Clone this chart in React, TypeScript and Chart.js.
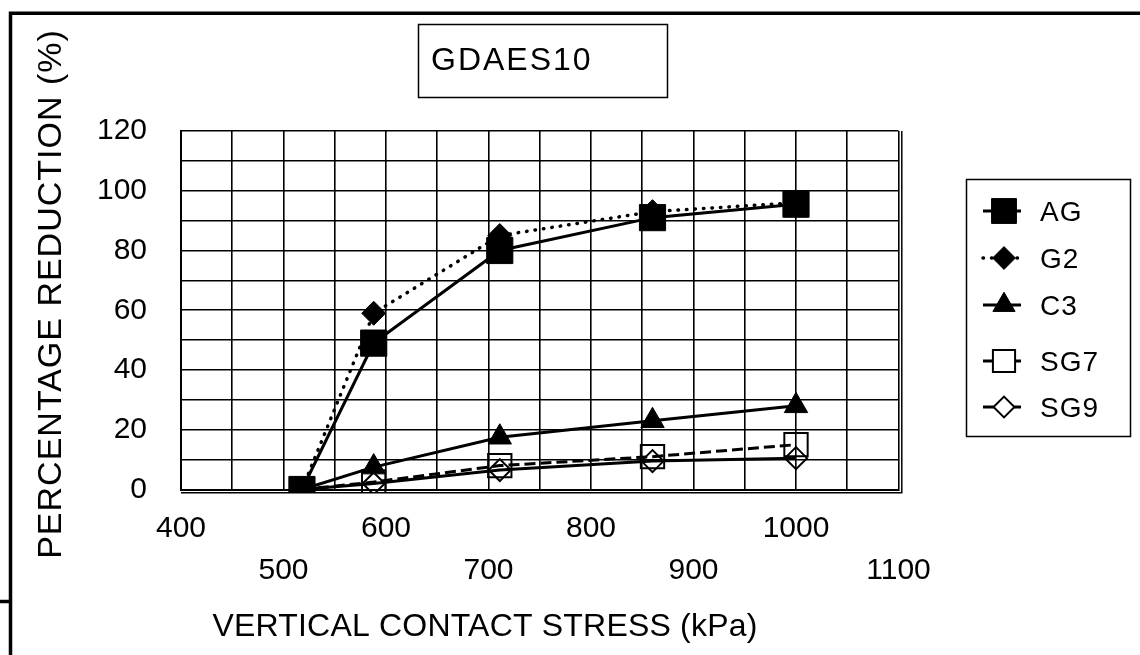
import React, { useEffect, useRef } from 'react';
import { Chart, registerables } from 'chart.js';

Chart.register(...registerables);

const FONT = '"Liberation Sans", Arial, Helvetica, sans-serif';

// ---- data ----
const stressKPa = [518, 588, 711, 860, 1000];
const agReduction = [0, 49, 80, 91, 95.5];
const g2Reduction = [0, 59, 85, 93, 96];
const c3Reduction = [0, 7.5, 17.5, 23, 28];
const sg7Reduction = [0, 2.5, 8, 11, 15];
const sg9Reduction = [0, 2, 6.5, 9.5, 10.5];
const seriesNames = ['AG', 'G2', 'C3', 'SG7', 'SG9'];
const xTickLabelsTop = ['400', '600', '800', '1000'];
const xTickLabelsBottom = ['500', '700', '900', '1100'];
const yTickLabels = ['0', '20', '40', '60', '80', '100', '120'];
const chartTitle = 'GDAES10';
const xAxisTitle = 'VERTICAL CONTACT STRESS (kPa)';
const yAxisTitle = 'PERCENTAGE REDUCTION (%)';

const toPoints = (ys: number[]) => stressKPa.map((x, i) => ({ x, y: ys[i] }));

function drawMarker(ctx: CanvasRenderingContext2D, style: string, x: number, y: number, r: number, filled: boolean, lw: number) {
  ctx.beginPath();
  if (style === 'rect') {
    const s = Math.SQRT1_2 * r;
    ctx.rect(x - s, y - s, 2 * s, 2 * s);
  } else if (style === 'rectRot') {
    ctx.moveTo(x - r, y);
    ctx.lineTo(x, y - r);
    ctx.lineTo(x + r, y);
    ctx.lineTo(x, y + r);
    ctx.closePath();
  } else if (style === 'triangle') {
    let rad = 0;
    ctx.moveTo(x + Math.sin(rad) * r, y - Math.cos(rad) * r);
    rad += (2 * Math.PI) / 3;
    ctx.lineTo(x + Math.sin(rad) * r, y - Math.cos(rad) * r);
    rad += (2 * Math.PI) / 3;
    ctx.lineTo(x + Math.sin(rad) * r, y - Math.cos(rad) * r);
    ctx.closePath();
  }
  ctx.fillStyle = filled ? '#000' : '#fff';
  ctx.fill();
  ctx.lineWidth = lw;
  ctx.strokeStyle = '#000';
  ctx.stroke();
}

const decorPlugin = {
  id: 'decor',
  afterDraw(chart: any) {
    const ctx: CanvasRenderingContext2D = chart.ctx;
    const a = chart.chartArea;
    ctx.save();
    ctx.strokeStyle = '#000';
    ctx.fillStyle = '#000';

    // outer (clipped) frame
    ctx.lineWidth = 3.5;
    ctx.beginPath();
    ctx.moveTo(10.5, 655);
    ctx.lineTo(10.5, 13.3);
    ctx.lineTo(1140, 13.3);
    ctx.stroke();
    ctx.beginPath();
    ctx.moveTo(0, 601.5);
    ctx.lineTo(10.5, 601.5);
    ctx.stroke();

    // double border at right / bottom of plot area
    ctx.lineWidth = 1.5;
    ctx.beginPath();
    ctx.moveTo(a.left, a.bottom + 3.3);
    ctx.lineTo(a.right + 3.3, a.bottom + 3.3);
    ctx.lineTo(a.right + 3.3, a.top);
    ctx.stroke();

    // title box
    ctx.lineWidth = 1.5;
    ctx.strokeRect(418.5, 24.5, 249, 73);
    ctx.font = `32px ${FONT}`;
    (ctx as any).letterSpacing = '2px';
    ctx.textAlign = 'left';
    ctx.textBaseline = 'alphabetic';
    ctx.fillText(chartTitle, 431, 58.3 + 0.358 * 32);

    // x axis title
    ctx.font = `32px ${FONT}`;
    (ctx as any).letterSpacing = '0.2px';
    ctx.textAlign = 'center';
    ctx.fillText(xAxisTitle, 485, 625 + 0.358 * 32);

    // y axis title
    ctx.save();
    ctx.translate(48.4 + 0.358 * 34, 294);
    ctx.rotate(-Math.PI / 2);
    ctx.font = `34px ${FONT}`;
    (ctx as any).letterSpacing = '1px';
    ctx.textAlign = 'center';
    ctx.textBaseline = 'alphabetic';
    ctx.fillText(yAxisTitle, 0, 0);
    ctx.restore();

    // legend
    ctx.lineWidth = 1.5;
    ctx.strokeRect(966.5, 179.5, 164, 257);
    const itemY = [211, 258, 305, 361, 407];
    chart.data.datasets.forEach((ds: any, i: number) => {
      const y = itemY[i];
      ctx.save();
      ctx.lineWidth = ds.borderWidth;
      ctx.lineCap = ds.borderCapStyle || 'butt';
      ctx.setLineDash(ds.borderDash || []);
      ctx.beginPath();
      ctx.moveTo(983, y);
      ctx.lineTo(1021, y);
      ctx.stroke();
      ctx.restore();
      const filled = ds.pointBackgroundColor === '#000';
      drawMarker(ctx, ds.pointStyle, 1004, y, ds.pointRadius * 0.95, filled, ds.pointBorderWidth);
      ctx.fillStyle = '#000';
      ctx.font = `28px ${FONT}`;
      (ctx as any).letterSpacing = '1px';
      ctx.textAlign = 'left';
      ctx.textBaseline = 'alphabetic';
      ctx.fillText(ds.label, 1040, y + 0.358 * 28);
    });
    ctx.restore();
  },
};

export default function App() {
  const canvasRef = useRef<HTMLCanvasElement | null>(null);

  useEffect(() => {
    if (!canvasRef.current) return;
    const tickFont = { family: FONT, size: 30, lineHeight: 1.4 };
    const chart = new Chart(canvasRef.current, {
      type: 'line',
      data: {
        datasets: [
          {
            label: seriesNames[0],
            data: toPoints(agReduction),
            borderColor: '#000',
            borderWidth: 3,
            pointStyle: 'rect',
            pointRadius: 18.5,
            pointBackgroundColor: '#000',
            pointBorderColor: '#000',
            pointBorderWidth: 1,
            clip: 3,
          },
          {
            label: seriesNames[1],
            data: toPoints(g2Reduction),
            borderColor: '#000',
            borderWidth: 3.5,
            borderDash: [0.5, 8],
            borderCapStyle: 'round',
            pointStyle: 'rectRot',
            pointRadius: 12,
            pointBackgroundColor: '#000',
            pointBorderColor: '#000',
            pointBorderWidth: 1,
            clip: 3,
          },
          {
            label: seriesNames[2],
            data: toPoints(c3Reduction),
            borderColor: '#000',
            borderWidth: 3,
            pointStyle: 'triangle',
            pointRadius: 13.5,
            pointBackgroundColor: '#000',
            pointBorderColor: '#000',
            pointBorderWidth: 1,
            clip: 3,
          },
          {
            label: seriesNames[3],
            data: toPoints(sg7Reduction),
            borderColor: '#000',
            borderWidth: 3,
            borderDash: [11, 5],
            pointStyle: 'rect',
            pointRadius: 16.5,
            pointBackgroundColor: 'rgba(0,0,0,0)',
            pointBorderColor: '#000',
            pointBorderWidth: 2,
            clip: 3,
          },
          {
            label: seriesNames[4],
            data: toPoints(sg9Reduction),
            borderColor: '#000',
            borderWidth: 3,
            pointStyle: 'rectRot',
            pointRadius: 11,
            pointBackgroundColor: 'rgba(0,0,0,0)',
            pointBorderColor: '#000',
            pointBorderWidth: 2,
            clip: 3,
          },
        ] as any,
      },
      options: {
        animation: false,
        responsive: false,
        maintainAspectRatio: false,
        layout: { padding: { left: 0, top: 131, right: 1140 - 898.5, bottom: 0 } },
        plugins: {
          legend: { display: false },
          title: { display: false },
          tooltip: { enabled: false },
        },
        elements: { line: { tension: 0, fill: false } },
        scales: {
          x: {
            type: 'linear',
            min: 400,
            max: 1100,
            afterFit: (s: any) => {
              s.height = 655 - 489.5;
            },
            ticks: {
              stepSize: 50,
              autoSkip: false,
              maxRotation: 0,
              minRotation: 0,
              padding: 18,
              color: '#000',
              font: tickFont,
              callback: (value: any) => {
                const v = String(value);
                if (xTickLabelsTop.includes(v)) return [v, ''];
                if (xTickLabelsBottom.includes(v)) return ['', v];
                return '';
              },
            },
            grid: { color: '#000', lineWidth: 1.6, drawTicks: false },
            border: { color: '#000', width: 2 },
          },
          y: {
            min: 0,
            max: 120,
            afterFit: (s: any) => {
              s.width = 181;
            },
            ticks: {
              stepSize: 10,
              autoSkip: false,
              padding: 34,
              color: '#000',
              font: tickFont,
              callback: (value: any) => {
                const v = String(value);
                return yTickLabels.includes(v) ? v : '';
              },
            },
            grid: { color: '#000', lineWidth: 1.6, drawTicks: false },
            border: { color: '#000', width: 2 },
          },
        },
      } as any,
      plugins: [decorPlugin],
    });
    return () => chart.destroy();
  }, []);

  return (
    <div style={{ position: 'absolute', left: 0, top: 0, width: 1140, height: 655, background: '#fff' }}>
      <canvas ref={canvasRef} width={1140} height={655} style={{ display: 'block', width: 1140, height: 655 }} />
    </div>
  );
}
